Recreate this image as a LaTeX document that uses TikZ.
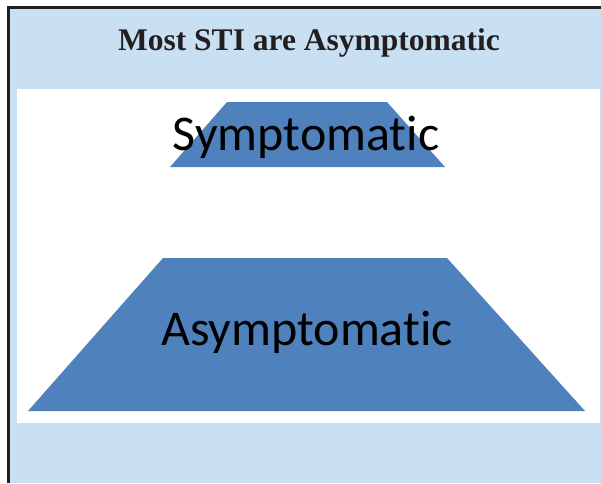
\documentclass[tikz,border=0pt]{standalone}
\usepackage{fontspec}
\setmainfont{Liberation Serif}
\newfontfamily\calib[Ligatures={NoCommon}]{Carlito}
\definecolor{panel}{HTML}{C9E0F3}
\definecolor{trap}{HTML}{4F81BD}
\definecolor{frame}{HTML}{231F20}
\tikzset{
  trapfill/.style={fill=trap, draw=none},
  biglabel/.style={font=\calib\fontsize{50}{50}\selectfont, text=black, inner sep=0pt, anchor=base},
  titlelabel/.style={font=\bfseries\fontsize{31.5}{32}\selectfont, text=frame, inner sep=0pt, anchor=base}
}
\begin{document}
\begin{tikzpicture}[x=1pt,y=-1pt]
\useasboundingbox (0,0) rectangle (601,483);
\fill[white] (0,0) rectangle (601,483);
\fill[panel] (8,7) rectangle (601,483);
\fill[white] (17,89) rectangle (600,423);
\draw[frame, line width=3pt] (8,483) -- (8,7) -- (601,7);
\node[titlelabel] (title) at (309,50) {Most STI are Asymptomatic};
\fill[trapfill] (227,102) -- (387,102) -- (445,167) -- (170,167) -- cycle;
\fill[trapfill] (163,258) -- (447,258) -- (585,411) -- (28,411) -- cycle;
\node[biglabel] (sym) at (306,150) {Symptomatic};
\node[biglabel] (asym) at (307,345) {Asymptomatic};
\end{tikzpicture}
\end{document}
